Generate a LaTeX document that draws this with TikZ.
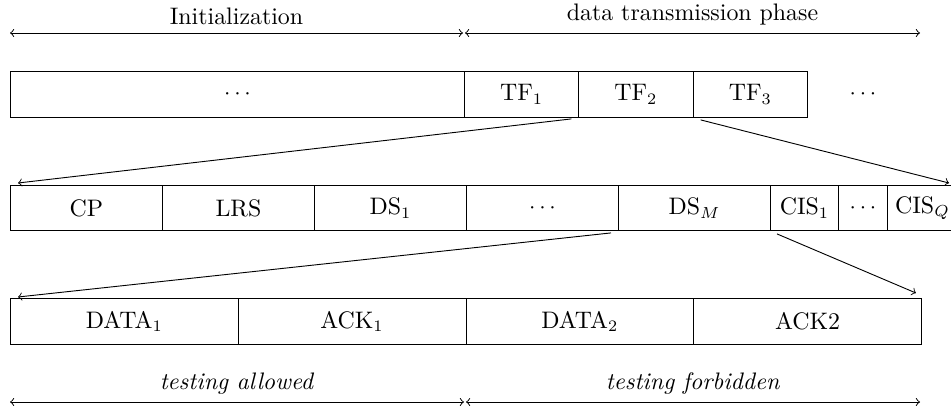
\documentclass[tikz,border=0pt]{standalone}
\usetikzlibrary{calc}
\tikzset{
  cell/.style={draw, inner sep=0pt, anchor=north west, minimum width=#1*0.4375pt},
  toprow/.style={minimum height=46*0.4375pt},
  midrow/.style={minimum height=45*0.4375pt},
  botrow/.style={minimum height=46*0.4375pt},
  span/.style={<->, >=to},
  zoomline/.style={->, >=to},
}
\begin{document}
\begin{tikzpicture}[x=0.4375pt, y=-0.4375pt, font=\fontsize{10.45}{12.5}\selectfont]
\useasboundingbox (0,0) rectangle (951,409);

% phase arrows on top
\coordinate (ia) at (10,33);
\coordinate (ib) at (463,33);
\coordinate (da) at (465,33);
\coordinate (db) at (920,33);
\draw[span] (ia) -- (ib) node[midway, above] (initlbl) {Initialization};
\draw[span] (da) -- (db) node[midway, above] (datalbl) {data transmission phase};

% frame sequence
\node[cell=454, toprow] (init) at (10,71) {$\cdots$};
\node[cell=114.3, toprow] (tf1) at (464,71) {TF$_1$};
\node[cell=114.3, toprow] (tf2) at (578.3,71) {TF$_2$};
\node[cell=114.3, toprow] (tf3) at (692.7,71) {TF$_3$};
\node (tfdots) at (863,94) {$\cdots$};

% time frame structure
\node[cell=152, midrow] (cp)   at (10,185)  {CP};
\node[cell=152, midrow] (lrs)  at (162,185) {LRS};
\node[cell=152, midrow] (ds1)  at (314,185) {DS$_1$};
\node[cell=152, midrow] (dsd)  at (466,185) {$\cdots$};
\node[cell=152, midrow] (dsm)  at (618,185) {DS$_M$};
\node[cell=68, midrow]  (cis1) at (770,185) {CIS$_1$};
\node[cell=49, midrow]  (cisd) at (838,185) {$\cdots$};
\node[cell=70, midrow]  (cisq) at (887,185) {CIS$_Q$};

% data slot structure
\node[cell=227.75, botrow] (data1) at (10,298)     {DATA$_1$};
\node[cell=227.75, botrow] (ack1)  at (237.75,298) {ACK$_1$};
\node[cell=227.75, botrow] (data2) at (465.5,298)  {DATA$_2$};
\node[cell=227.75, botrow] (ack2)  at (693.25,298) {ACK2};

% zoom lines
\draw[zoomline] ($(tf2.south west)+(-7,1)$) -- ($(cp.north west)+(8,-2)$);
\draw[zoomline] ($(tf3.south west)+(8,2)$) -- (949,183);
\draw[zoomline] ($(dsm.south west)+(-7,2)$) -- ($(data1.north west)+(8,-1)$);
\draw[zoomline] ($(cis1.south west)+(7,3)$) -- ($(ack2.north east)+(-6,-5)$);

% testing windows at the bottom
\coordinate (ta) at (10,402);
\coordinate (tb) at (464,402);
\coordinate (fa) at (466,402);
\coordinate (fb) at (920,402);
\draw[span] (ta) -- (tb) node[midway, above] (allowlbl) {\textit{testing allowed}};
\draw[span] (fa) -- (fb) node[midway, above] (forbidlbl) {\textit{testing forbidden}};
\end{tikzpicture}
\end{document}
